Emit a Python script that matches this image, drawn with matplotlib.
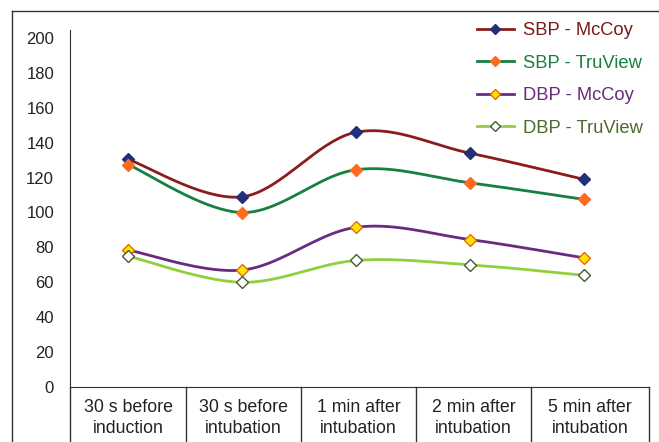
import numpy as np
import matplotlib.pyplot as plt
from matplotlib.lines import Line2D

# categories and values
categories = ["30 s before\ninduction", "30 s before\nintubation", "1 min after\nintubation",
              "2 min after\nintubation", "5 min after\nintubation"]
sbp_mccoy = [130.5, 109, 146, 134, 119]
sbp_truview = [127.5, 100, 124.5, 117, 107.5]
dbp_mccoy = [78.5, 67, 91.5, 84.5, 74]
dbp_truview = [75, 60, 72.5, 70, 64]
y_ticks = [0, 20, 40, 60, 80, 100, 120, 140, 160, 180, 200]


def smooth(x, y, n=40):
    # excel style smoothed line (catmull-rom through the points)
    p = np.column_stack([x, y]).astype(float)
    p = np.vstack([p[0], p, p[-1]])
    out = []
    t = np.linspace(0, 1, n)[:, None]
    for i in range(1, len(p) - 2):
        p0, p1, p2, p3 = p[i - 1], p[i], p[i + 1], p[i + 2]
        c = 0.5 * ((2 * p1) + (-p0 + p2) * t + (2 * p0 - 5 * p1 + 4 * p2 - p3) * t ** 2
                   + (-p0 + 3 * p1 - 3 * p2 + p3) * t ** 3)
        out.append(c)
    c = np.vstack(out)
    return c[:, 0], c[:, 1]


W, H = 659, 442
fig = plt.figure(figsize=(W / 100, H / 100), dpi=100)
plt.rcParams['font.family'] = ['Liberation Sans', 'DejaVu Sans']

ax_left, ax_right = 70, 649
ax_top, ax_bottom = 30, 387
ax = fig.add_axes([ax_left / W, 1 - ax_bottom / H, (ax_right - ax_left) / W, (ax_bottom - ax_top) / H])

x = np.arange(len(categories))
series = [
    ("SBP - McCoy", sbp_mccoy, "#8b1c1c", "#22307a", "#22307a", "#7a1a1a"),
    ("SBP - TruView", sbp_truview, "#15803f", "#ff6a1f", "#ff6a1f", "#1a8040"),
    ("DBP - McCoy", dbp_mccoy, "#6a2a82", "#ffe500", "#e06a10", "#6a2a7a"),
    ("DBP - TruView", dbp_truview, "#8fd03c", "white", "#4a5a30", "#4f6a30"),
]
handles = []
for label, vals, lc, mfc, mec, tc in series:
    sx, sy = smooth(x, vals)
    ax.plot(sx, sy, color=lc, lw=2.0, solid_capstyle='round', zorder=2)
    ax.plot(x, vals, ls='none', marker='D', ms=6, mfc=mfc, mec=mec, mew=1.0, zorder=3)
    handles.append(Line2D([], [], color=lc, lw=2.0, marker='D', ms=5, mfc=mfc, mec=mec, mew=1.0))

# x positions: first point at 128 px, last at 584 px
step = (584 - 128) / 4
ax.set_xlim(-(128 - ax_left) / step, 4 + (ax_right - 584) / step)
ax.set_ylim(0, 200 * (387 - 30) / (387 - 38))
ax.set_yticks(y_ticks)
ax.tick_params(axis='y', length=0, pad=11.5, labelsize=12, labelcolor='#222222')
ax.set_xticks([])
for s in ['top', 'right']:
    ax.spines[s].set_visible(False)
ax.spines['left'].set_color('#333333')
ax.spines['bottom'].set_color('#333333')

# table with category labels under the axis
bounds = [70, 186, 301, 416, 531, 649]
for b in bounds:
    fig.add_artist(Line2D([b / W, b / W], [1 - 387 / H, 0], color='#333333', lw=1.0))
for i, lab in enumerate(categories):
    cx = (bounds[i] + bounds[i + 1]) / 2
    fig.text(cx / W, 1 - 418 / H, lab, ha='center', va='center', fontsize=12.8,
             linespacing=1.25, color='#222222')

# outer frame
fig.add_artist(Line2D([12 / W, 12 / W], [0, 1 - 11 / H], color='#333333', lw=1.0))
fig.add_artist(Line2D([12 / W, 1], [1 - 11 / H, 1 - 11 / H], color='#333333', lw=1.0))

leg = fig.legend(handles, [s[0] for s in series], loc='upper left',
                 bbox_to_anchor=(477 / W, 1 - 22 / H), frameon=False, fontsize=13.2,
                 handlelength=2.0, handletextpad=0.5, labelspacing=0.85,
                 borderpad=0, borderaxespad=0,
                 labelcolor=[s[5] for s in series])

fig.savefig("out.png", dpi=100)
